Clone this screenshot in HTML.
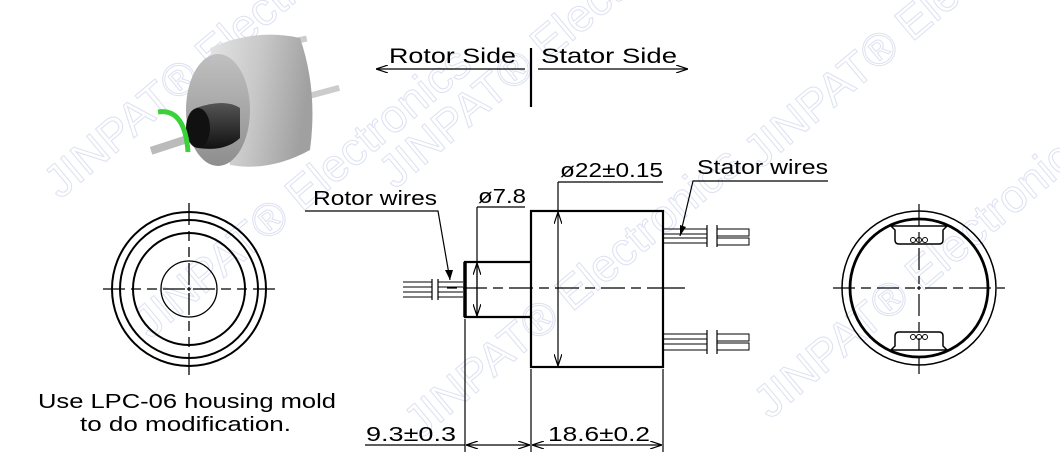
<!DOCTYPE html>
<html><head><meta charset="utf-8"><style>
html,body{margin:0;padding:0;background:#fff;width:1060px;height:464px;overflow:hidden}
svg{display:block}
text{font-family:"Liberation Sans",sans-serif;fill:#000}
</style></head><body>
<svg width="1060" height="464" viewBox="0 0 1060 464" xmlns="http://www.w3.org/2000/svg">
<defs>
<linearGradient id="cyl" x1="0" y1="0" x2="1" y2="0.2">
<stop offset="0" stop-color="#e4e4e4"/><stop offset="0.5" stop-color="#c8c8c8"/><stop offset="1" stop-color="#a0a0a0"/></linearGradient>
<linearGradient id="face" x1="0" y1="0" x2="0" y2="1">
<stop offset="0" stop-color="#c0c0c0"/><stop offset="1" stop-color="#8e8e8e"/></linearGradient>
<linearGradient id="dark" x1="0" y1="0" x2="0" y2="1">
<stop offset="0" stop-color="#555"/><stop offset="1" stop-color="#111"/></linearGradient>
<marker id="ar" viewBox="0 0 12 8" refX="12" refY="4" markerWidth="12" markerHeight="8" orient="auto-start-reverse" markerUnits="userSpaceOnUse">
<path d="M0,0 L12,4 L0,8" fill="none" stroke="#000" stroke-width="1.2"/></marker>
</defs>

<!-- watermarks -->
<g font-size="46" font-family="Liberation Sans,sans-serif">
<text transform="translate(60,200) rotate(-40)" style="fill:none;stroke:#dde1f1;stroke-width:1">JINPAT® Electronics</text>
<text transform="translate(150,340) rotate(-40)" style="fill:none;stroke:#dde1f1;stroke-width:1">JINPAT® Electronics</text>
<text transform="translate(395,190) rotate(-40)" style="fill:none;stroke:#dde1f1;stroke-width:1">JINPAT® Electronics</text>
<text transform="translate(420,440) rotate(-40)" style="fill:none;stroke:#dde1f1;stroke-width:1">JINPAT® Electronics</text>
<text transform="translate(760,170) rotate(-40)" style="fill:none;stroke:#dde1f1;stroke-width:1">JINPAT® Electronics</text>
<text transform="translate(770,420) rotate(-40)" style="fill:none;stroke:#dde1f1;stroke-width:1">JINPAT® Electronics</text>
</g>

<!-- 3D image -->
<g>
<rect x="285" y="38" width="22" height="6" fill="#ccc" transform="rotate(-12 295 41)"/>
<rect x="300" y="90" width="40" height="6" fill="#ccc" transform="rotate(-15 320 93)"/>
<path d="M210,48 Q255,28 300,38 Q318,90 310,150 Q270,172 230,165 Z" fill="url(#cyl)"/>
<ellipse cx="218" cy="110" rx="32" ry="56" fill="url(#face)"/>
<rect x="150" y="140" width="45" height="8" fill="#bbb" transform="rotate(-18 172 144)"/>
<path d="M196,108 Q225,98 240,108 L240,138 Q225,152 198,148 Z" fill="url(#dark)"/>
<ellipse cx="198" cy="128" rx="12" ry="20" fill="#111"/>
<path d="M158,112 Q185,108 188,152" fill="none" stroke="#3ad13a" stroke-width="5"/>
</g>

<!-- top rotor/stator -->
<line x1="531" y1="48" x2="531" y2="107" stroke="#000" stroke-width="2.2"/>
<line x1="525" y1="69" x2="376" y2="69" stroke="#000" stroke-width="1.2" marker-end="url(#ar)"/>
<line x1="538" y1="69" x2="688" y2="69" stroke="#000" stroke-width="1.2" marker-end="url(#ar)"/>
<text x="389" y="63" font-size="21" textLength="127" lengthAdjust="spacingAndGlyphs">Rotor Side</text>
<text x="541" y="63" font-size="21" textLength="136" lengthAdjust="spacingAndGlyphs">Stator Side</text>

<!-- left view -->
<g fill="none" stroke="#000" stroke-width="2">
<circle cx="189" cy="289" r="77"/><circle cx="189" cy="289" r="69"/><circle cx="189" cy="289" r="56"/>
<circle cx="189" cy="289" r="28" stroke-width="1.3"/>
</g>
<g stroke="#000" stroke-width="1.3" fill="none">
<path d="M103,289H125 M131,289H141 M147,289H157 M163,289H185 M187,289H191 M193,289H215 M221,289H231 M237,289H247 M253,289H275"/>
<path d="M189,203V225 M189,231V241 M189,247V257 M189,263V285 M189,287V291 M189,293V315 M189,321V331 M189,337V347 M189,353V375"/>
</g>
<text x="38" y="408" font-size="20" textLength="298" lengthAdjust="spacingAndGlyphs">Use LPC-06 housing mold</text>
<text x="80" y="431" font-size="20" textLength="211" lengthAdjust="spacingAndGlyphs">to do modification.</text>

<!-- side view -->
<g stroke="#000" fill="none">
<rect x="531" y="211" width="132" height="156" stroke-width="2.2"/>
<path d="M531,262H465V317H531" stroke-width="2.2"/>
<line x1="465" y1="262" x2="465" y2="317" stroke-width="3.5"/>
<path d="M447,288H457 M463,288H487 M493,288H503 M509,288H533 M539,288H549 M555,288H579 M585,288H595 M601,288H625 M631,288H641 M647,288H685" stroke-width="1.2"/>
<path d="M403,282H432 M403,287H432 M403,292H432 M403,297H432 M438,282H463 M438,287H463 M438,292H463 M438,297H463" stroke-width="1"/>
<path d="M432,279V300 M438,279V300" stroke-width="1.2"/>
<path d="M663,229H707 M663,234H707 M663,238H707 M663,243H707" stroke-width="1"/>
<path d="M707,225V247 M717,225V247" stroke-width="1.2"/>
<path d="M717,229H749V236H717 M717,238H749V245H717" stroke-width="1"/>
<path d="M663,334H707 M663,339H707 M663,344H707 M663,350H707" stroke-width="1"/>
<path d="M707,330V354 M717,330V354" stroke-width="1.2"/>
<path d="M717,334H749V341H717 M717,343H749V350H717" stroke-width="1"/>
</g>
<g stroke="#000" stroke-width="1.2" fill="none">
<line x1="477" y1="207" x2="477" y2="317"/>
<line x1="477" y1="207" x2="525" y2="207"/>
<line x1="477" y1="288" x2="477" y2="263" marker-end="url(#ar)"/>
<line x1="477" y1="288" x2="477" y2="316" marker-end="url(#ar)"/>
<line x1="558" y1="182" x2="663" y2="182"/>
<line x1="558" y1="182" x2="558" y2="211"/>
<line x1="558" y1="290" x2="558" y2="212" marker-end="url(#ar)"/>
<line x1="558" y1="290" x2="558" y2="366" marker-end="url(#ar)"/>
<line x1="465" y1="319" x2="465" y2="452"/>
<line x1="531" y1="369" x2="531" y2="452"/>
<line x1="663" y1="369" x2="663" y2="452"/>
<line x1="365" y1="445" x2="465" y2="445"/>
<line x1="498" y1="445" x2="466" y2="445" marker-end="url(#ar)"/>
<line x1="498" y1="445" x2="530" y2="445" marker-end="url(#ar)"/>
<line x1="597" y1="445" x2="532" y2="445" marker-end="url(#ar)"/>
<line x1="597" y1="445" x2="662" y2="445" marker-end="url(#ar)"/>
<path d="M305,211H438L450,280"/>
<path d="M828,181H693L680,236"/>
</g>
<path d="M450,280l-5,-10h8z" fill="#000"/>
<path d="M680,236l0,-11l6,2z" fill="#000"/>
<text x="478" y="203" font-size="20" textLength="48" lengthAdjust="spacingAndGlyphs">ø7.8</text>
<text x="560" y="177" font-size="20" textLength="103" lengthAdjust="spacingAndGlyphs">ø22±0.15</text>
<text x="313" y="205" font-size="20" textLength="124" lengthAdjust="spacingAndGlyphs">Rotor wires</text>
<text x="697" y="174" font-size="20" textLength="131" lengthAdjust="spacingAndGlyphs">Stator wires</text>
<text x="366" y="441" font-size="20" textLength="90" lengthAdjust="spacingAndGlyphs">9.3±0.3</text>
<text x="548" y="441" font-size="20" textLength="102" lengthAdjust="spacingAndGlyphs">18.6±0.2</text>

<!-- right view -->
<g fill="none" stroke="#000">
<circle cx="919" cy="288" r="77" stroke-width="1.5"/>
<circle cx="919" cy="288" r="69" stroke-width="2.8"/>
<path d="M891,226H947L943,230V240Q943,244 939,244H899Q895,244 895,240V230Z" stroke-width="1.5" fill="#fff"/>
<path d="M891,350H947L943,346V336Q943,332 939,332H899Q895,332 895,336V346Z" stroke-width="1.5" fill="#fff"/>
<g stroke-width="1"><circle cx="913" cy="240" r="2.5"/><circle cx="919" cy="240" r="2.5"/><circle cx="925" cy="240" r="2.5"/>
<circle cx="913" cy="337" r="2.5"/><circle cx="919" cy="337" r="2.5"/><circle cx="925" cy="337" r="2.5"/></g>
<path d="M833,288H855 M861,288H871 M877,288H899 M905,288H915 M917,288H921 M925,288H947 M953,288H963 M969,288H991 M997,288H1005" stroke-width="1.2"/>
<path d="M919,204V226 M919,232V242 M919,248V270 M919,276V284 M919,286V290 M919,294V316 M919,322V332 M919,338V350 M919,356V374" stroke-width="1.2"/>
</g>
</svg>
</body></html>
